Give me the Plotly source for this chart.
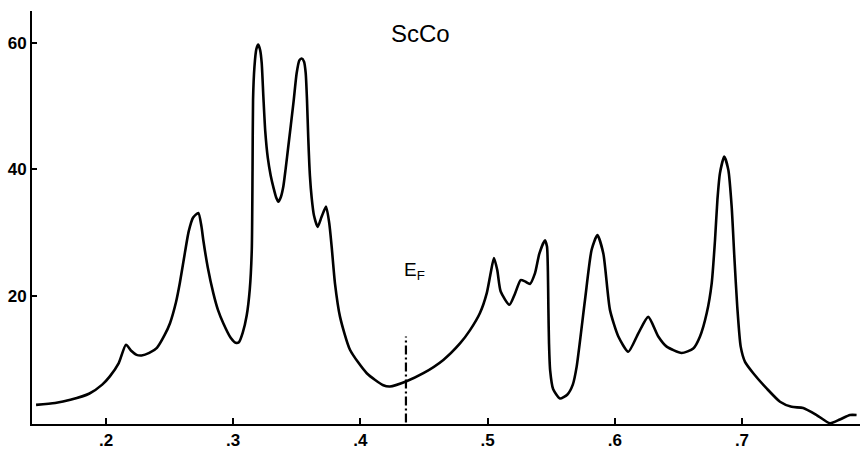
import plotly.graph_objects as go

# Density-of-states curve for ScCo
energy = [
    0.1450, 0.1600, 0.1720, 0.1870, 0.1970, 0.2030, 0.2100, 0.2157, 0.2200, 0.2240,
    0.2280, 0.2340, 0.2400, 0.2460, 0.2503, 0.2550, 0.2580, 0.2620, 0.2650, 0.2685,
    0.2726, 0.2750, 0.2765, 0.2800, 0.2844, 0.2880, 0.2922, 0.2980, 0.3020, 0.3045,
    0.3075, 0.3106, 0.3130, 0.3146, 0.3152, 0.3156, 0.3167, 0.3182, 0.3197, 0.3212,
    0.3224, 0.3237, 0.3252, 0.3272, 0.3295, 0.3318, 0.3337, 0.3355, 0.3374, 0.3394,
    0.3413, 0.3433, 0.3473, 0.3499, 0.3520, 0.3538, 0.3557, 0.3570, 0.3580, 0.3590,
    0.3603, 0.3617, 0.3635, 0.3664, 0.3695, 0.3730, 0.3755, 0.3774, 0.3800, 0.3840,
    0.3918, 0.4050, 0.4180, 0.4233, 0.4358, 0.4495, 0.4652, 0.4783, 0.4862, 0.4940,
    0.4993, 0.5024, 0.5050, 0.5076, 0.5103, 0.5171, 0.5216, 0.5260, 0.5294, 0.5333,
    0.5373, 0.5407, 0.5451, 0.5467, 0.5474, 0.5478, 0.5483, 0.5492, 0.5515, 0.5569,
    0.5626, 0.5670, 0.5700, 0.5766, 0.5818, 0.5863, 0.5910, 0.5962, 0.6028, 0.6106,
    0.6185, 0.6263, 0.6342, 0.6408, 0.6525, 0.6617, 0.6670, 0.6723, 0.6762, 0.6788,
    0.6807, 0.6827, 0.6861, 0.6893, 0.6919, 0.6940, 0.6963, 0.6990, 0.7024, 0.7089,
    0.7194, 0.7299, 0.7390, 0.7481, 0.7587, 0.7692, 0.7770, 0.7849, 0.7901,
]
dos = [
    2.8, 3.1, 3.6, 4.6, 6.0, 7.3, 9.4, 12.3, 11.3, 10.7,
    10.6, 11.0, 11.8, 13.8, 15.7, 19.0, 22.0, 26.8, 30.2, 32.4,
    33.1, 31.0, 28.8, 24.5, 20.4, 17.8, 15.7, 13.4, 12.6, 12.7,
    14.2, 16.9, 21.0, 27.3, 40.0, 51.0, 56.2, 59.0, 59.7, 58.8,
    56.8, 51.5, 46.0, 41.8, 39.0, 37.0, 35.6, 34.9, 35.6, 37.3,
    40.2, 43.6, 50.4, 55.2, 57.2, 57.5, 57.0, 55.2, 51.0, 45.0,
    39.0, 35.5, 32.7, 30.9, 32.5, 34.1, 31.5, 27.8, 22.0, 16.7,
    11.5, 7.8, 5.9, 5.7, 6.5, 7.8, 9.9, 12.5, 14.6, 17.3,
    20.4, 23.6, 26.0, 24.1, 20.7, 18.6, 20.4, 22.5, 22.3, 21.9,
    23.6, 26.7, 28.8, 27.8, 24.0, 18.0, 12.5, 8.2, 5.3, 3.8,
    4.4, 6.0, 8.8, 19.4, 27.3, 29.6, 26.7, 17.8, 13.6, 11.2,
    14.1, 16.7, 13.6, 12.0, 11.0, 11.7, 13.6, 17.3, 22.0, 28.8,
    35.2, 39.4, 42.0, 39.9, 34.1, 26.2, 18.3, 12.0, 9.6, 7.8,
    5.4, 3.3, 2.5, 2.3, 1.2, -0.1, 0.5, 1.2, 1.2,
]

# Fermi level marker
fermi_x = [0.4358, 0.4358]
fermi_y = [0.0, 13.6]

x_tick_vals = [0.2, 0.3, 0.4, 0.5, 0.6, 0.7]
x_tick_text = [".2", ".3", ".4", ".5", ".6", ".7"]
y_tick_vals = [20, 40, 60]
y_tick_text = ["20", "40", "60"]

fig = go.Figure()
fig.add_trace(go.Scatter(
    x=energy, y=dos, mode="lines",
    line=dict(color="black", width=2.6, shape="spline", smoothing=0.6),
    showlegend=False, hoverinfo="skip",
))
fig.add_trace(go.Scatter(
    x=fermi_x, y=fermi_y, mode="lines",
    line=dict(color="black", width=2.2, dash="9px,3px,2px,3px"),
    showlegend=False, hoverinfo="skip",
))

fig.add_annotation(x=0.4469, y=61.5, xref="x", yref="y", text="ScCo",
                   showarrow=False,
                   font=dict(family="Liberation Sans, Arial, sans-serif", size=24, color="black"))
fig.add_annotation(x=0.4425, y=24.0, xref="x", yref="y", text="E<sub>F</sub>",
                   showarrow=False,
                   font=dict(family="Liberation Sans, Arial, sans-serif", size=19, color="black"))

fig.update_layout(
    width=860, height=455,
    margin=dict(l=32, r=0, t=11, b=31),
    paper_bgcolor="white", plot_bgcolor="white",
    font=dict(family="Liberation Sans, Arial, sans-serif", color="black"),
    xaxis=dict(
        range=[0.1418, 0.7928], showgrid=False, zeroline=False,
        showline=True, linecolor="black", linewidth=2,
        ticks="inside", ticklen=6, tickwidth=2, tickcolor="black",
        tickvals=x_tick_vals, ticktext=x_tick_text,
        tickfont=dict(size=17, weight="bold", color="black"),
    ),
    yaxis=dict(
        range=[-0.22, 65.0], showgrid=False, zeroline=False,
        showline=True, linecolor="black", linewidth=2,
        ticks="inside", ticklen=5, tickwidth=2, tickcolor="black",
        tickvals=y_tick_vals, ticktext=y_tick_text,
        tickfont=dict(size=17, weight="bold", color="black"),
    ),
)

fig.write_html("out.html")
